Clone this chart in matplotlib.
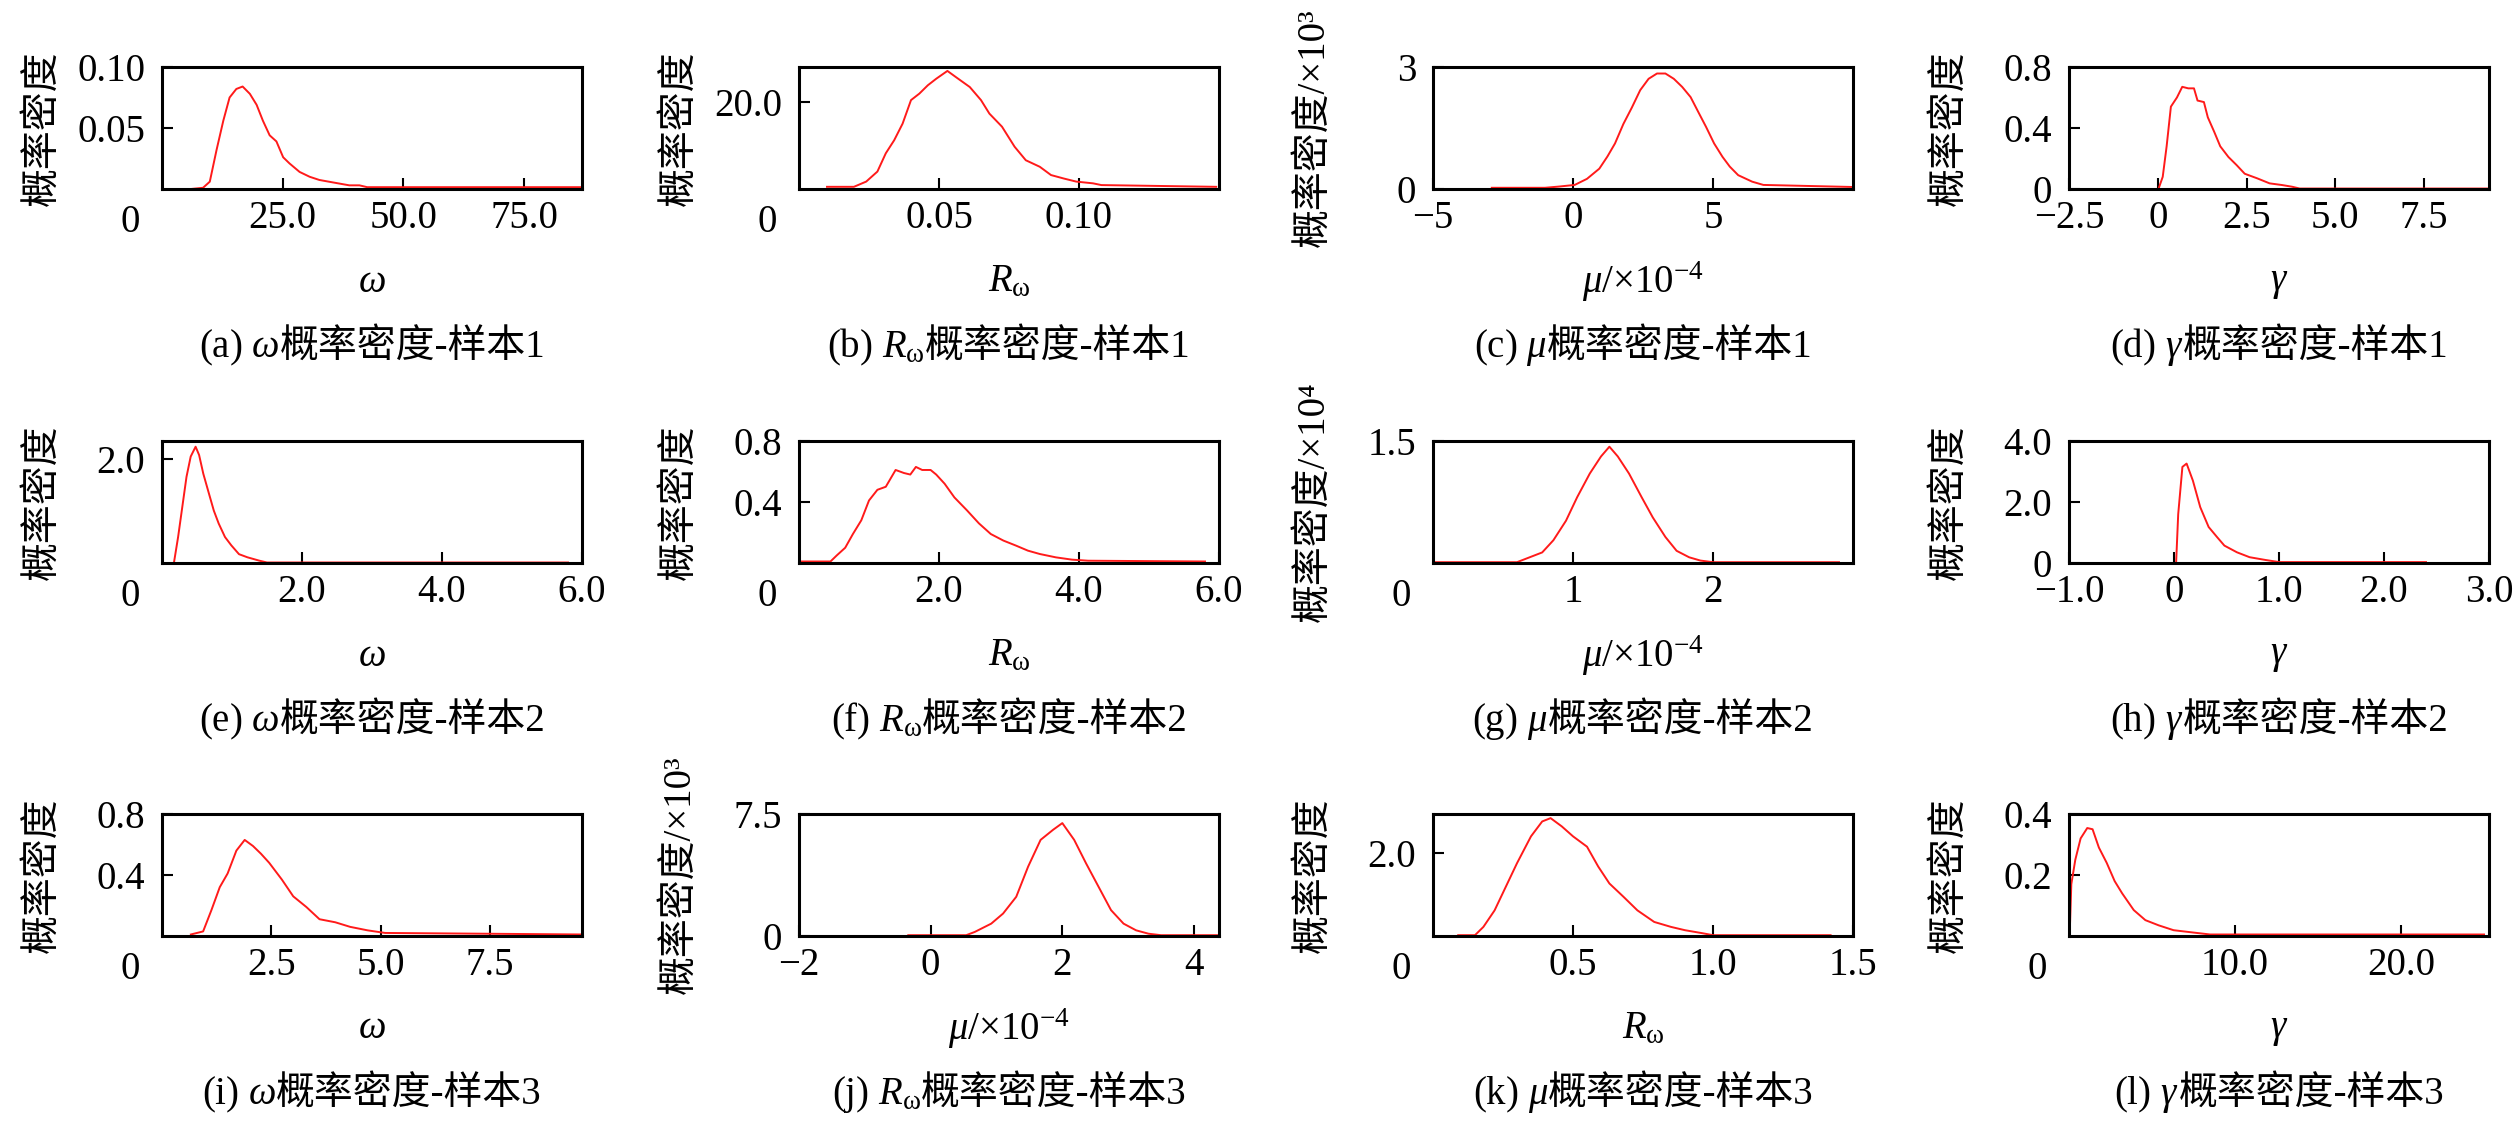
import matplotlib
matplotlib.use("Agg")
import matplotlib.pyplot as plt
from matplotlib.transforms import IdentityTransform

plt.rcParams['font.family'] = ['Liberation Serif', 'Noto Sans CJK SC']
plt.rcParams['mathtext.fontset'] = 'custom'
plt.rcParams['mathtext.rm'] = 'Liberation Serif'
plt.rcParams['mathtext.it'] = 'Liberation Serif:italic'
plt.rcParams['axes.unicode_minus'] = True

# ---- data (histogram outlines) ----
omega1_x = [6, 8.5, 9.9, 11.3, 12.7, 14.0, 15.4, 16.7, 18.2, 19.6, 20.9, 22.3, 23.7, 25.1, 26.4,
            28.5, 30.6, 32.6, 35.4, 38.8, 40.9, 42.5, 87]
omega1_y = [0.0, 0.001, 0.006, 0.032, 0.056, 0.075, 0.082, 0.084, 0.078, 0.069, 0.056, 0.044, 0.039,
            0.026, 0.021, 0.014, 0.010, 0.0074, 0.0054, 0.003, 0.003, 0.0015, 0.0015]

rw1_x = [0.010, 0.0196, 0.024, 0.028, 0.031, 0.034, 0.037, 0.040, 0.043, 0.046, 0.049, 0.053, 0.056,
         0.061, 0.065, 0.068, 0.0725, 0.077, 0.081, 0.086, 0.090, 0.0946, 0.099, 0.105, 0.108, 0.149]
rw1_y = [0.5, 0.5, 1.7, 4.0, 8.2, 11.2, 15.0, 20.4, 21.9, 23.8, 25.3, 27.1, 25.7, 23.4, 20.4, 17.3,
         14.3, 9.7, 6.6, 5.1, 3.2, 2.4, 1.7, 1.3, 0.9, 0.5]

mu1_x = [-2.9, -1.0, -0.5, 0.06, 0.5, 0.94, 1.23, 1.5, 1.8, 2.1, 2.4, 2.7, 3.0, 3.3, 3.6, 3.9, 4.2,
         4.5, 4.75, 5.04, 5.34, 5.6, 5.9, 6.4, 6.8, 9.95]
mu1_y = [0.03, 0.03, 0.06, 0.1, 0.25, 0.5, 0.8, 1.12, 1.6, 2.0, 2.43, 2.71, 2.84, 2.84, 2.71, 2.51,
         2.26, 1.86, 1.53, 1.12, 0.79, 0.55, 0.34, 0.18, 0.1, 0.05]

gamma1_x = [0.02, 0.14, 0.25, 0.37, 0.54, 0.69, 0.86, 1.02, 1.12, 1.30, 1.41, 1.59, 1.76, 1.99, 2.22,
            2.45, 2.80, 3.15, 3.5, 3.78, 4.0, 9.3]
gamma1_y = [0.0, 0.08, 0.28, 0.54, 0.60, 0.67, 0.66, 0.66, 0.58, 0.57, 0.47, 0.375, 0.28, 0.21, 0.157,
            0.10, 0.07, 0.037, 0.026, 0.015, 0.003, 0.003]

omega2_x = [0.17, 0.23, 0.29, 0.35, 0.41, 0.48, 0.53, 0.59, 0.67, 0.74, 0.81, 0.90, 0.99, 1.10, 1.22,
            1.39, 1.5, 5.8]
omega2_y = [0.0, 0.5, 1.08, 1.66, 2.05, 2.24, 2.08, 1.72, 1.34, 1.01, 0.76, 0.50, 0.34, 0.17, 0.11,
            0.045, 0.01, 0.01]

rw2_x = [0.02, 0.45, 0.54, 0.66, 0.77, 0.89, 1.0, 1.12, 1.24, 1.38, 1.50, 1.59, 1.67, 1.76, 1.88, 1.96,
         2.08, 2.22, 2.40, 2.57, 2.74, 2.92, 3.1, 3.27, 3.44, 3.67, 3.9, 4.13, 5.8]
rw2_y = [0.01, 0.01, 0.05, 0.10, 0.19, 0.28, 0.41, 0.48, 0.50, 0.61, 0.59, 0.58, 0.63, 0.61, 0.61, 0.58,
         0.52, 0.43, 0.345, 0.26, 0.19, 0.147, 0.114, 0.081, 0.059, 0.037, 0.022, 0.015, 0.01]

mu2_x = [0.02, 0.6, 0.66, 0.78, 0.86, 0.95, 1.03, 1.12, 1.2, 1.26, 1.32, 1.40, 1.49, 1.57, 1.66, 1.74,
         1.83, 1.91, 2.0, 2.9]
mu2_y = [0.01, 0.01, 0.05, 0.13, 0.28, 0.52, 0.81, 1.10, 1.31, 1.43, 1.31, 1.10, 0.81, 0.56, 0.32, 0.15,
         0.07, 0.03, 0.01, 0.01]

gamma2_x = [0.02, 0.04, 0.08, 0.12, 0.18, 0.25, 0.33, 0.41, 0.48, 0.6, 0.72, 0.87, 1.0, 2.4]
gamma2_y = [0.0, 1.6, 3.15, 3.26, 2.7, 1.83, 1.18, 0.85, 0.57, 0.35, 0.19, 0.10, 0.03, 0.03]

omega3_x = [0.66, 0.94, 1.13, 1.32, 1.5, 1.7, 1.89, 2.08, 2.26, 2.45, 2.74, 3.0, 3.3, 3.6, 3.96, 4.3,
            4.7, 5.1, 9.6]
omega3_y = [0.01, 0.03, 0.17, 0.32, 0.41, 0.56, 0.63, 0.59, 0.54, 0.48, 0.37, 0.26, 0.19, 0.11, 0.09,
            0.06, 0.037, 0.02, 0.01]

mu3_x = [-0.34, 0.54, 0.67, 0.92, 1.1, 1.3, 1.48, 1.67, 1.86, 2.0, 2.18, 2.36, 2.55, 2.74, 2.93, 3.12,
         3.31, 3.5, 4.38]
mu3_y = [0.05, 0.05, 0.25, 0.76, 1.38, 2.41, 4.26, 5.91, 6.53, 6.94, 5.91, 4.47, 3.03, 1.59, 0.76, 0.35,
         0.14, 0.05, 0.05]

rw3_x = [0.09, 0.15, 0.18, 0.22, 0.26, 0.30, 0.35, 0.39, 0.42, 0.46, 0.50, 0.55, 0.59, 0.63, 0.68, 0.73,
         0.79, 0.85, 0.90, 0.96, 1.0, 1.42]
rw3_y = [0.02, 0.02, 0.22, 0.62, 1.19, 1.76, 2.41, 2.77, 2.85, 2.65, 2.41, 2.16, 1.68, 1.27, 0.95, 0.62,
         0.34, 0.22, 0.14, 0.07, 0.02, 0.02]

gamma3_x = [0.05, 0.14, 0.38, 0.7, 1.1, 1.42, 1.8, 2.27, 2.75, 3.2, 3.9, 4.6, 5.4, 6.3, 7.7, 8.5, 25.0]
gamma3_y = [0.02, 0.17, 0.25, 0.32, 0.354, 0.35, 0.29, 0.24, 0.18, 0.14, 0.085, 0.052, 0.035, 0.019,
            0.01, 0.005, 0.005]

# axis labels
OMEGA = r'$\omega$'
RW = r'$R_{\mathrm{ω}}$'
MU = r'$\mu$/×10$^{-4}$'
GAMMA = r'$\gamma$'
YL = '概率密度'
YL3 = '概率密度/×10³'
YL4 = '概率密度/×10⁴'

panels = [
    dict(x=omega1_x, y=omega1_y, xlim=(0, 87), ylim=(0, 0.10),
         xt=[25, 50, 75], xtl=['25.0', '50.0', '75.0'], yt=[0.05, 0.10], ytl=['0.05', '0.10'],
         origin=True, xl=OMEGA, yl=YL, title=['(a) $\\omega$', '概率密度-样本1']),
    dict(x=rw1_x, y=rw1_y, xlim=(0, 0.15), ylim=(0, 28),
         xt=[0.05, 0.10], xtl=['0.05', '0.10'], yt=[20], ytl=['20.0'],
         origin=True, xl=RW, yl=YL, title=['(b) $R_{\\mathrm{ω}}$', '概率密度-样本1']),
    dict(x=mu1_x, y=mu1_y, xlim=(-5, 10), ylim=(0, 3),
         xt=[-5, 0, 5], xtl=['−5', '0', '5'], yt=[0, 3], ytl=['0', '3'],
         origin=False, xl=MU, yl=YL3, title=['(c) $\\mu$', '概率密度-样本1']),
    dict(x=gamma1_x, y=gamma1_y, xlim=(-2.5, 9.33), ylim=(0, 0.8),
         xt=[-2.5, 0, 2.5, 5.0, 7.5], xtl=['−2.5', '0', '2.5', '5.0', '7.5'],
         yt=[0, 0.4, 0.8], ytl=['0', '0.4', '0.8'],
         origin=False, xl=GAMMA, yl=YL, title=['(d) $\\gamma$', '概率密度-样本1']),
    dict(x=omega2_x, y=omega2_y, xlim=(0, 6), ylim=(0, 2.35),
         xt=[2, 4, 6], xtl=['2.0', '4.0', '6.0'], yt=[2.0], ytl=['2.0'],
         origin=True, xl=OMEGA, yl=YL, title=['(e) $\\omega$', '概率密度-样本2']),
    dict(x=rw2_x, y=rw2_y, xlim=(0, 6), ylim=(0, 0.8),
         xt=[2, 4, 6], xtl=['2.0', '4.0', '6.0'], yt=[0.4, 0.8], ytl=['0.4', '0.8'],
         origin=True, xl=RW, yl=YL, title=['(f) $R_{\\mathrm{ω}}$', '概率密度-样本2']),
    dict(x=mu2_x, y=mu2_y, xlim=(0, 3), ylim=(0, 1.5),
         xt=[1, 2], xtl=['1', '2'], yt=[1.5], ytl=['1.5'],
         origin=True, xl=MU, yl=YL4, title=['(g) $\\mu$', '概率密度-样本2']),
    dict(x=gamma2_x, y=gamma2_y, xlim=(-1, 3), ylim=(0, 4),
         xt=[-1, 0, 1, 2, 3], xtl=['−1.0', '0', '1.0', '2.0', '3.0'],
         yt=[0, 2, 4], ytl=['0', '2.0', '4.0'],
         origin=False, xl=GAMMA, yl=YL, title=['(h) $\\gamma$', '概率密度-样本2']),
    dict(x=omega3_x, y=omega3_y, xlim=(0, 9.6), ylim=(0, 0.8),
         xt=[2.5, 5.0, 7.5], xtl=['2.5', '5.0', '7.5'], yt=[0.4, 0.8], ytl=['0.4', '0.8'],
         origin=True, xl=OMEGA, yl=YL, title=['(i) $\\omega$', '概率密度-样本3']),
    dict(x=mu3_x, y=mu3_y, xlim=(-2, 4.38), ylim=(0, 7.5),
         xt=[-2, 0, 2, 4], xtl=['−2', '0', '2', '4'], yt=[0, 7.5], ytl=['0', '7.5'],
         origin=False, xl=MU, yl=YL3, title=['(j) $R_{\\mathrm{ω}}$', '概率密度-样本3']),
    dict(x=rw3_x, y=rw3_y, xlim=(0, 1.5), ylim=(0, 2.95),
         xt=[0.5, 1.0, 1.5], xtl=['0.5', '1.0', '1.5'], yt=[2.0], ytl=['2.0'],
         origin=True, xl=RW, yl=YL, title=['(k) $\\mu$', '概率密度-样本3']),
    dict(x=gamma3_x, y=gamma3_y, xlim=(0, 25.3), ylim=(0, 0.4),
         xt=[10, 20], xtl=['10.0', '20.0'], yt=[0.2, 0.4], ytl=['0.2', '0.4'],
         origin=True, xl=GAMMA, yl=YL, title=['(l) $\\gamma$', '概率密度-样本3']),
]

W, H = 2520, 1130
FS = 28
col_left = [162, 799, 1433, 2069]
row_top = [67, 441, 814]
ax_w, ax_h = 420, 122

fig = plt.figure(figsize=(W / 100, H / 100), dpi=100)
renderer = fig.canvas.get_renderer()


def rich_text(cx, base_y, pieces):
    # pieces placed side by side, centred on cx, baseline at base_y (pixels from top)
    objs = [fig.text(0, 0, s, fontsize=FS, ha='left', va='baseline',
                     transform=IdentityTransform()) for s in pieces]
    widths = [t.get_window_extent(renderer).width for t in objs]
    x = cx - sum(widths) / 2
    for t, w in zip(objs, widths):
        t.set_position((x, H - base_y))
        x += w


for i, p in enumerate(panels):
    r, c = divmod(i, 4)
    left, top = col_left[c], row_top[r]
    ax = fig.add_axes([left / W, 1 - (top + ax_h) / H, ax_w / W, ax_h / H])
    ax.plot(p['x'], p['y'], color='#ff1a1a', lw=1.4)
    ax.set_xlim(*p['xlim'])
    ax.set_ylim(*p['ylim'])
    ax.set_xticks(p['xt'])
    ax.set_xticklabels(p['xtl'])
    ax.set_yticks(p['yt'])
    ax.set_yticklabels(p['ytl'])
    ax.tick_params(direction='in', length=8, width=1.5, labelsize=FS, top=False, right=False)
    ax.tick_params(axis='x', pad=8)
    ax.tick_params(axis='y', pad=12)
    for s in ax.spines.values():
        s.set_linewidth(2.2)
    ax.set_ylabel(p['yl'], fontsize=FS)
    # label right edge ~100 px left of the axes
    ax.yaxis.set_label_coords(-100 / ax_w, 0.5)
    if p['origin']:
        ax.annotate('0', xy=(0, 0), xycoords='axes fraction', xytext=(-23, -24),
                    textcoords='offset points', ha='center', va='center', fontsize=FS)
    ax.text(0.5, -93 / ax_h, p['xl'], transform=ax.transAxes, ha='center', va='center',
            fontsize=FS)
    rich_text(left + ax_w / 2, top + ax_h + 168, p['title'])

fig.savefig('out.png', dpi=100)
